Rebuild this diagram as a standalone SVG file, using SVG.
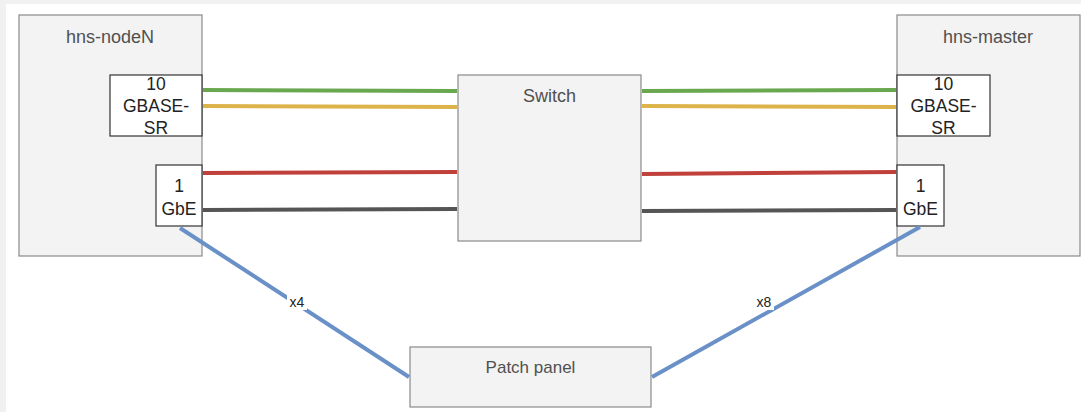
<svg xmlns="http://www.w3.org/2000/svg" width="1081" height="412" viewBox="0 0 1081 412">
<style>
.bg{fill:#f1f1f1}
.node{fill:#f3f3f3;stroke:#8a8a8a;stroke-width:1.2}
.port{fill:#ffffff;stroke:#333333;stroke-width:1.2}
.lbl{font-family:"Liberation Sans",Arial,sans-serif;font-size:18px;fill:#505050;text-anchor:middle}
.plbl{font-family:"Liberation Sans",Arial,sans-serif;font-size:17.5px;fill:#222222;text-anchor:middle}
.elbl{font-family:"Liberation Sans",Arial,sans-serif;font-size:14px;fill:#222222;text-anchor:middle}
.w{fill:none;stroke-width:4}
.green{stroke:#6aa84f}.yellow{stroke:#dcb44a}.red{stroke:#c0403c}.dark{stroke:#555555}.blue{stroke:#6a90c8}
</style>
<rect class="bg" x="0" y="0" width="1081" height="412"/>
<rect x="6" y="4" width="1075" height="408" fill="#ffffff"/>
<g id="hns-nodeN">
<rect class="node" x="19" y="15" width="183" height="241"/>
<text class="lbl" x="110" y="42.5">hns-nodeN</text>
</g>
<g id="nodeN-10g">
<rect class="port" x="110" y="75" width="92" height="61"/>
<text class="plbl" x="156" y="90">10</text>
<text class="plbl" x="156" y="112">GBASE-</text>
<text class="plbl" x="156" y="134">SR</text>
</g>
<g id="nodeN-1g">
<rect class="port" x="156" y="165" width="46" height="61"/>
<text class="plbl" x="179" y="191.5">1</text>
<text class="plbl" x="179" y="214.5">GbE</text>
</g>
<g id="hns-master">
<rect class="node" x="897" y="15" width="183" height="241"/>
<text class="lbl" x="988" y="42.5">hns-master</text>
</g>
<g id="master-10g">
<rect class="port" x="897" y="75" width="93" height="61"/>
<text class="plbl" x="943.5" y="90">10</text>
<text class="plbl" x="943.5" y="112">GBASE-</text>
<text class="plbl" x="943.5" y="134">SR</text>
</g>
<g id="master-1g">
<rect class="port" x="897" y="165" width="47" height="61"/>
<text class="plbl" x="920.5" y="191.5">1</text>
<text class="plbl" x="920.5" y="214.5">GbE</text>
</g>
<g id="switch">
<rect class="node" x="458" y="75" width="183" height="166"/>
<text class="lbl" x="549.5" y="101.5">Switch</text>
</g>
<g id="patch-panel">
<rect class="node" x="410" y="347" width="241" height="60"/>
<text class="lbl" x="530.5" y="373" style="font-size:17px">Patch panel</text>
</g>
<g id="connectors">
<line class="w green" x1="203" y1="90" x2="457" y2="91"/>
<line class="w yellow" x1="203" y1="106" x2="457" y2="107"/>
<line class="w red" x1="203" y1="173" x2="457" y2="172"/>
<line class="w dark" x1="203" y1="210" x2="457" y2="209"/>
<line class="w green" x1="642" y1="91" x2="896" y2="90"/>
<line class="w yellow" x1="642" y1="106" x2="896" y2="107"/>
<line class="w red" x1="642" y1="174" x2="896" y2="172"/>
<line class="w dark" x1="642" y1="211" x2="896" y2="210"/>
<line class="w blue" x1="180" y1="228" x2="409" y2="377"/>
<line class="w blue" x1="652" y1="377" x2="920" y2="227"/>
<rect x="287" y="294" width="20" height="16" fill="#ffffff"/>
<text class="elbl" x="297" y="307">x4</text>
<rect x="754" y="294" width="20" height="16" fill="#ffffff"/>
<text class="elbl" x="764" y="307">x8</text>
</g>
</svg>
